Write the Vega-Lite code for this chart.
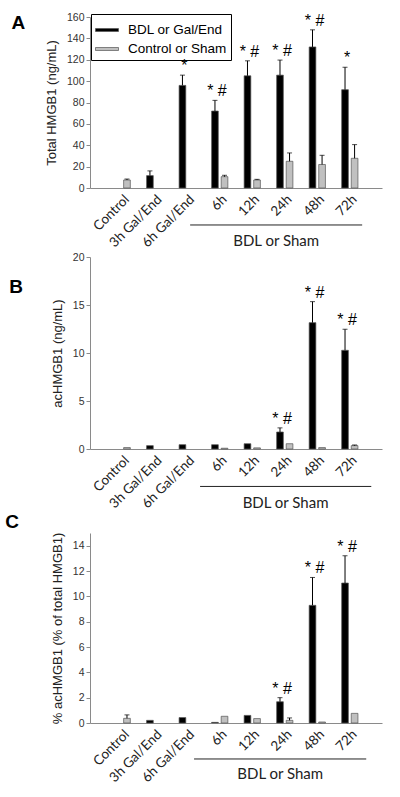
{
  "$schema": "https://vega.github.io/schema/vega-lite/v6.json",
  "padding": {"left": 5, "top": 12, "right": 5, "bottom": 5},
  "spacing": 2,
  "config": {
    "view": {"stroke": null},
    "title": {"font": "Liberation Sans", "fontSize": 19, "fontWeight": "bold", "color": "#000", "anchor": "start", "frame": "bounds"},
    "axisY": {"domainColor": "#8a8a8a", "tickColor": "#8a8a8a", "tickSize": 4, "tickCount": 20, "labelFont": "Liberation Sans", "labelFontSize": 10.5, "labelColor": "#333", "labelPadding": 2, "labelOverlap": false, "titleFont": "Liberation Sans", "titleFontSize": 13, "titleFontWeight": "normal", "titleColor": "#222", "titlePadding": 8, "grid": false},
    "axisX": {"domainColor": "#8a8a8a", "ticks": false, "labelAngle": -45, "labelFont": "Lato", "labelFontSize": 13.5, "labelColor": "#222", "labelPadding": 4, "title": null, "grid": false},
    "legend": {"labelFont": "Liberation Sans", "labelFontSize": 13.5, "labelColor": "#000"}
  },
  "datasets": {
    "a": [
      {"group": "Control", "series": "Control or Sham", "value": 7.5, "upper": 8.4},
      {"group": "3h Gal/End", "series": "BDL or Gal/End", "value": 11.6, "upper": 16},
      {"group": "6h Gal/End", "series": "BDL or Gal/End", "value": 96, "upper": 105.6, "sig": "*"},
      {"group": "6h", "series": "BDL or Gal/End", "value": 72, "upper": 82, "sig": "* #"},
      {"group": "6h", "series": "Control or Sham", "value": 10.6, "upper": 11.9},
      {"group": "12h", "series": "BDL or Gal/End", "value": 105, "upper": 119, "sig": "* #"},
      {"group": "12h", "series": "Control or Sham", "value": 7.5, "upper": 8.1},
      {"group": "24h", "series": "BDL or Gal/End", "value": 105.6, "upper": 119.7, "sig": "* #"},
      {"group": "24h", "series": "Control or Sham", "value": 25, "upper": 32.8},
      {"group": "48h", "series": "BDL or Gal/End", "value": 132, "upper": 148, "sig": "* #"},
      {"group": "48h", "series": "Control or Sham", "value": 22, "upper": 30.6},
      {"group": "72h", "series": "BDL or Gal/End", "value": 92, "upper": 113, "sig": "*"},
      {"group": "72h", "series": "Control or Sham", "value": 27.8, "upper": 40.6}
    ],
    "b": [
      {"group": "Control", "series": "Control or Sham", "value": 0.15},
      {"group": "3h Gal/End", "series": "BDL or Gal/End", "value": 0.35},
      {"group": "6h Gal/End", "series": "BDL or Gal/End", "value": 0.45},
      {"group": "6h", "series": "BDL or Gal/End", "value": 0.45},
      {"group": "6h", "series": "Control or Sham", "value": 0.08},
      {"group": "12h", "series": "BDL or Gal/End", "value": 0.55},
      {"group": "12h", "series": "Control or Sham", "value": 0.12},
      {"group": "24h", "series": "BDL or Gal/End", "value": 1.77, "upper": 2.2, "sig": "* #"},
      {"group": "24h", "series": "Control or Sham", "value": 0.55},
      {"group": "48h", "series": "BDL or Gal/End", "value": 13.16, "upper": 15.35, "sig": "* #"},
      {"group": "48h", "series": "Control or Sham", "value": 0.15},
      {"group": "72h", "series": "BDL or Gal/End", "value": 10.28, "upper": 12.47, "sig": "* #"},
      {"group": "72h", "series": "Control or Sham", "value": 0.35, "upper": 0.42}
    ],
    "c": [
      {"group": "Control", "series": "Control or Sham", "value": 0.37, "upper": 0.64},
      {"group": "3h Gal/End", "series": "BDL or Gal/End", "value": 0.21},
      {"group": "6h Gal/End", "series": "BDL or Gal/End", "value": 0.43},
      {"group": "6h", "series": "BDL or Gal/End", "value": 0.05},
      {"group": "6h", "series": "Control or Sham", "value": 0.53},
      {"group": "12h", "series": "BDL or Gal/End", "value": 0.6},
      {"group": "12h", "series": "Control or Sham", "value": 0.35},
      {"group": "24h", "series": "BDL or Gal/End", "value": 1.68, "upper": 2.0, "sig": "* #"},
      {"group": "24h", "series": "Control or Sham", "value": 0.21, "upper": 0.4},
      {"group": "48h", "series": "BDL or Gal/End", "value": 9.29, "upper": 11.49, "sig": "* #"},
      {"group": "48h", "series": "Control or Sham", "value": 0.08},
      {"group": "72h", "series": "BDL or Gal/End", "value": 11.05, "upper": 13.2, "sig": "* #"},
      {"group": "72h", "series": "Control or Sham", "value": 0.76}
    ]
  },
  "vconcat": [
    {
      "title": {"text": "A", "offset": -21, "dx": -34},
      "width": 292, "height": 171,
      "data": {"name": "a"},
      "layer": [
        {
          "mark": {"type": "bar", "stroke": "#555", "strokeWidth": 0.7},
          "encoding": {
            "x": {"field": "group", "type": "nominal", "sort": null, "scale": {"domain": ["Control", "3h Gal/End", "6h Gal/End", "6h", "12h", "24h", "48h", "72h"], "paddingInner": 0.5, "paddingOuter": 0.74}},
            "xOffset": {"field": "series", "type": "nominal", "scale": {"domain": ["BDL or Gal/End", "Control or Sham"], "paddingInner": 0.3, "paddingOuter": 0}},
            "y": {"field": "value", "type": "quantitative", "title": "Total HMGB1 (ng/mL)", "scale": {"domain": [0, 160], "nice": false}, "axis": {"values": [0, 20, 40, 60, 80, 100, 120, 140, 160], "tickCount": 20, "labelOverlap": false}},
            "color": {"field": "series", "type": "nominal", "scale": {"domain": ["BDL or Gal/End", "Control or Sham"], "range": ["#000000", "#c0c0c0"]},
              "legend": {"title": null, "orient": "none", "legendX": 1, "legendY": -3, "strokeColor": "#000", "padding": 4, "symbolType": "M-1,-0.13H1V0.13H-1Z", "symbolSize": 529, "symbolStrokeColor": "#555", "symbolStrokeWidth": 0.7, "labelOffset": 9, "rowPadding": 0}}
          }
        },
        {
          "transform": [{"filter": "isValid(datum.upper)"}],
          "mark": {"type": "rule", "color": "#000", "strokeWidth": 1},
          "encoding": {
            "x": {"field": "group", "type": "nominal", "sort": null},
            "xOffset": {"field": "series", "type": "nominal"},
            "y": {"field": "value", "type": "quantitative"},
            "y2": {"field": "upper"}
          }
        },
        {
          "transform": [{"filter": "isValid(datum.upper)"}],
          "mark": {"type": "tick", "color": "#000", "thickness": 1, "size": 5, "orient": "horizontal"},
          "encoding": {
            "x": {"field": "group", "type": "nominal", "sort": null},
            "xOffset": {"field": "series", "type": "nominal"},
            "y": {"field": "upper", "type": "quantitative"}
          }
        },
        {
          "transform": [{"filter": "isValid(datum.sig)"}],
          "mark": {"type": "text", "font": "Liberation Sans", "fontSize": 16, "baseline": "alphabetic", "dy": -4, "dx": 2, "color": "#000"},
          "encoding": {
            "x": {"field": "group", "type": "nominal", "sort": null},
            "xOffset": {"field": "series", "type": "nominal"},
            "y": {"field": "upper", "type": "quantitative"},
            "text": {"field": "sig"}
          }
        },
        {
          "data": {"values": [{}]},
          "mark": {"type": "rule", "color": "#222", "strokeWidth": 1},
          "encoding": {
            "x": {"datum": "6h Gal/End", "bandPosition": 0.68},
            "x2": {"datum": "72h", "bandPosition": 1.26},
            "y": {"datum": -34.6}
          }
        },
        {
          "data": {"values": [{}]},
          "mark": {"type": "text", "text": "BDL or Sham", "font": "Lato", "fontSize": 15, "baseline": "middle", "align": "center", "color": "#222"},
          "encoding": {
            "x": {"datum": "24h", "bandPosition": -0.03},
            "y": {"datum": -49.6}
          }
        }
      ]
    },
    {
      "title": {"text": "B", "offset": -45, "dx": -42},
      "width": 292, "height": 192,
      "data": {"name": "b"},
      "layer": [
        {
          "mark": {"type": "bar", "stroke": "#555", "strokeWidth": 0.7},
          "encoding": {
            "x": {"field": "group", "type": "nominal", "sort": null, "scale": {"domain": ["Control", "3h Gal/End", "6h Gal/End", "6h", "12h", "24h", "48h", "72h"], "paddingInner": 0.5, "paddingOuter": 0.74}},
            "xOffset": {"field": "series", "type": "nominal", "scale": {"domain": ["BDL or Gal/End", "Control or Sham"], "paddingInner": 0.3, "paddingOuter": 0}},
            "y": {"field": "value", "type": "quantitative", "title": "acHMGB1 (ng/mL)", "scale": {"domain": [0, 20], "nice": false}, "axis": {"values": [0, 5, 10, 15, 20], "tickCount": 20, "labelOverlap": false}},
            "color": {"field": "series", "type": "nominal", "scale": {"domain": ["BDL or Gal/End", "Control or Sham"], "range": ["#000000", "#c0c0c0"]}, "legend": null}
          }
        },
        {
          "transform": [{"filter": "isValid(datum.upper)"}],
          "mark": {"type": "rule", "color": "#000", "strokeWidth": 1},
          "encoding": {
            "x": {"field": "group", "type": "nominal", "sort": null},
            "xOffset": {"field": "series", "type": "nominal"},
            "y": {"field": "value", "type": "quantitative"},
            "y2": {"field": "upper"}
          }
        },
        {
          "transform": [{"filter": "isValid(datum.upper)"}],
          "mark": {"type": "tick", "color": "#000", "thickness": 1, "size": 5, "orient": "horizontal"},
          "encoding": {
            "x": {"field": "group", "type": "nominal", "sort": null},
            "xOffset": {"field": "series", "type": "nominal"},
            "y": {"field": "upper", "type": "quantitative"}
          }
        },
        {
          "transform": [{"filter": "isValid(datum.sig)"}],
          "mark": {"type": "text", "font": "Liberation Sans", "fontSize": 16, "baseline": "alphabetic", "dy": -4, "dx": 2, "color": "#000"},
          "encoding": {
            "x": {"field": "group", "type": "nominal", "sort": null},
            "xOffset": {"field": "series", "type": "nominal"},
            "y": {"field": "upper", "type": "quantitative"},
            "text": {"field": "sig"}
          }
        },
        {
          "data": {"values": [{}]},
          "mark": {"type": "rule", "color": "#222", "strokeWidth": 1},
          "encoding": {
            "x": {"datum": "6h Gal/End", "bandPosition": 1.29},
            "x2": {"datum": "72h", "bandPosition": 1.82},
            "y": {"datum": -3.9}
          }
        },
        {
          "data": {"values": [{}]},
          "mark": {"type": "text", "text": "BDL or Sham", "font": "Lato", "fontSize": 15, "baseline": "middle", "align": "center", "color": "#222"},
          "encoding": {
            "x": {"datum": "24h", "bandPosition": 0.55},
            "y": {"datum": -5.6}
          }
        }
      ]
    },
    {
      "title": {"text": "C", "offset": 0, "dx": -46},
      "width": 292, "height": 190,
      "data": {"name": "c"},
      "layer": [
        {
          "mark": {"type": "bar", "stroke": "#555", "strokeWidth": 0.7},
          "encoding": {
            "x": {"field": "group", "type": "nominal", "sort": null, "scale": {"domain": ["Control", "3h Gal/End", "6h Gal/End", "6h", "12h", "24h", "48h", "72h"], "paddingInner": 0.5, "paddingOuter": 0.74}},
            "xOffset": {"field": "series", "type": "nominal", "scale": {"domain": ["BDL or Gal/End", "Control or Sham"], "paddingInner": 0.3, "paddingOuter": 0}},
            "y": {"field": "value", "type": "quantitative", "title": "% acHMGB1 (% of total HMGB1)", "scale": {"domain": [0, 15], "nice": false}, "axis": {"values": [0, 2, 4, 6, 8, 10, 12, 14], "tickCount": 20, "labelOverlap": false}},
            "color": {"field": "series", "type": "nominal", "scale": {"domain": ["BDL or Gal/End", "Control or Sham"], "range": ["#000000", "#c0c0c0"]}, "legend": null}
          }
        },
        {
          "transform": [{"filter": "isValid(datum.upper)"}],
          "mark": {"type": "rule", "color": "#000", "strokeWidth": 1},
          "encoding": {
            "x": {"field": "group", "type": "nominal", "sort": null},
            "xOffset": {"field": "series", "type": "nominal"},
            "y": {"field": "value", "type": "quantitative"},
            "y2": {"field": "upper"}
          }
        },
        {
          "transform": [{"filter": "isValid(datum.upper)"}],
          "mark": {"type": "tick", "color": "#000", "thickness": 1, "size": 5, "orient": "horizontal"},
          "encoding": {
            "x": {"field": "group", "type": "nominal", "sort": null},
            "xOffset": {"field": "series", "type": "nominal"},
            "y": {"field": "upper", "type": "quantitative"}
          }
        },
        {
          "transform": [{"filter": "isValid(datum.sig)"}],
          "mark": {"type": "text", "font": "Liberation Sans", "fontSize": 16, "baseline": "alphabetic", "dy": -4, "dx": 2, "color": "#000"},
          "encoding": {
            "x": {"field": "group", "type": "nominal", "sort": null},
            "xOffset": {"field": "series", "type": "nominal"},
            "y": {"field": "upper", "type": "quantitative"},
            "text": {"field": "sig"}
          }
        },
        {
          "data": {"values": [{}]},
          "mark": {"type": "rule", "color": "#222", "strokeWidth": 1},
          "encoding": {
            "x": {"datum": "6h Gal/End", "bandPosition": 0.92},
            "x2": {"datum": "72h", "bandPosition": 1.51},
            "y": {"datum": -2.84}
          }
        },
        {
          "data": {"values": [{}]},
          "mark": {"type": "text", "text": "BDL or Sham", "font": "Lato", "fontSize": 15, "baseline": "middle", "align": "center", "color": "#222"},
          "encoding": {
            "x": {"datum": "24h", "bandPosition": 0.22},
            "y": {"datum": -4.03}
          }
        }
      ]
    }
  ]
}
